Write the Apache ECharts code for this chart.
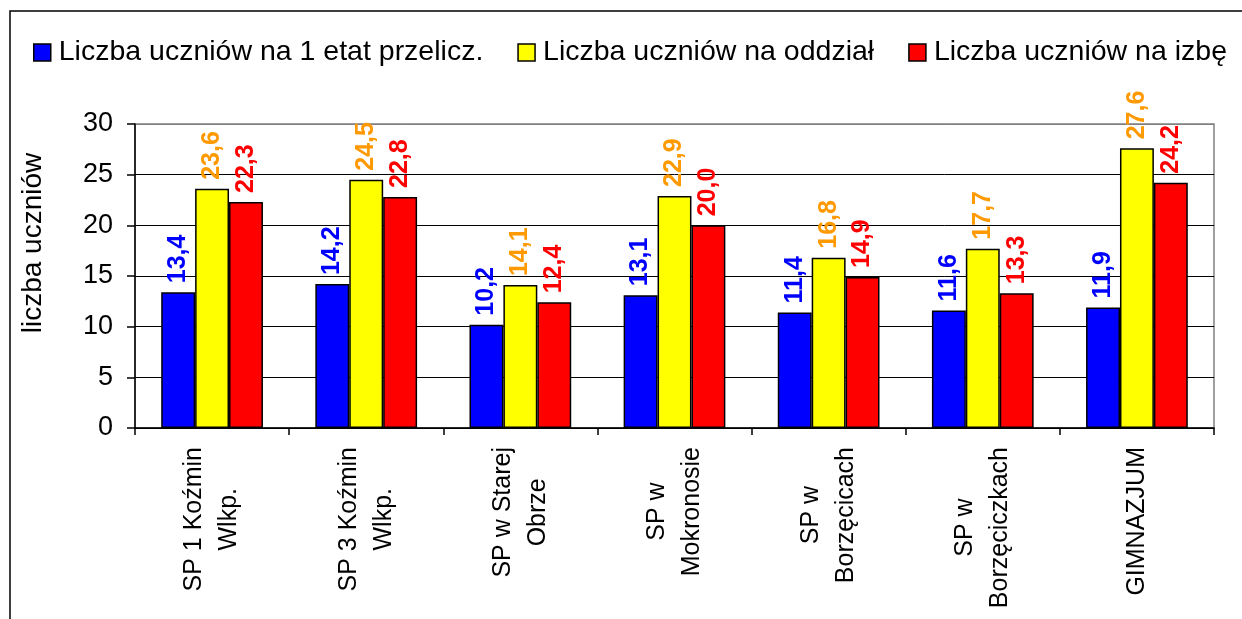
<!DOCTYPE html>
<html>
<head>
<meta charset="utf-8">
<script src="https://cdn.jsdelivr.net/npm/echarts@6/dist/echarts.min.js"></script>
<style>
html,body{margin:0;padding:0;background:#fff;}
#c{width:1242px;height:619px;}
</style>
</head>
<body>
<div id="c"></div>
<script>
var categories = ['SP 1 Koźmin\nWlkp.', 'SP 3 Koźmin\nWlkp.', 'SP w Starej\nObrze', 'SP w\nMokronosie', 'SP w\nBorzęcicach', 'SP w\nBorzęciczkach', 'GIMNAZJUM'];
var seriesNames = ['Liczba uczniów na 1 etat przelicz.', 'Liczba uczniów na oddział', 'Liczba uczniów na izbę'];
var perTeacher = [13.4, 14.2, 10.2, 13.1, 11.4, 11.6, 11.9];
var perClass = [23.6, 24.5, 14.1, 22.9, 16.8, 17.7, 27.6];
var perRoom = [22.3, 22.8, 12.4, 20.0, 14.9, 13.3, 24.2];
var yTicks = [0, 5, 10, 15, 20, 25, 30];
var yAxisTitle = 'liczba uczniów';

var FONT = "'Liberation Sans', Arial, sans-serif";
var barColors = ['#0000FF', '#FFFF00', '#FF0000'];
var labelColors = ['#0000FF', '#FF9900', '#FF0000'];
var dataSets = [perTeacher, perClass, perRoom];

function fmt(v) { return v.toFixed(1).replace('.', ','); }

var chart = echarts.init(document.getElementById('c'), null, {renderer: 'canvas'});
var series = dataSets.map(function (d, i) {
  return {
    name: seriesNames[i],
    type: 'bar',
    data: d,
    barGap: '0%',
    barCategoryGap: '34%',
    itemStyle: {color: barColors[i], borderColor: '#000', borderWidth: 1.5},
    label: {
      show: true,
      position: 'top',
      rotate: 90,
      align: 'left',
      verticalAlign: 'middle',
      distance: 9,
      color: labelColors[i],
      fontFamily: FONT,
      fontWeight: 'bold',
      fontSize: 25,
      formatter: function (p) { return fmt(p.value); }
    },
    emphasis: {disabled: true}
  };
});

chart.setOption({
  animation: false,
  backgroundColor: '#fff',
  textStyle: {fontFamily: FONT},
  graphic: [{
    type: 'polyline',
    shape: {points: [[10, 640], [10, 11], [1250, 11]]},
    style: {stroke: '#000', lineWidth: 1.5, fill: null},
    silent: true
  }],
  legend: {
    left: 28,
    top: 33,
    itemWidth: 17,
    itemHeight: 17,
    itemGap: 34,
    icon: 'rect',
    itemStyle: {borderColor: '#000', borderWidth: 1.5},
    textStyle: {fontFamily: FONT, fontSize: 28.5, color: '#000', padding: [0, 0, 0, 3]},
    data: seriesNames
  },
  grid: {
    left: 135, right: 28, top: 124, bottom: 191,
    show: true, borderColor: '#808080', borderWidth: 1.5,
    containLabel: false
  },
  xAxis: {
    type: 'category',
    data: categories,
    axisLine: {lineStyle: {color: '#000', width: 1.5}},
    axisTick: {show: true, length: 7, lineStyle: {color: '#000', width: 1.5}, interval: 0},
    axisLabel: {
      interval: 0,
      rotate: 90,
      margin: 19,
      color: '#000',
      fontFamily: FONT,
      fontSize: 25,
      formatter: function (v) {
        return v.split('\n').map(function (s) { return '{c|' + s + '}'; }).join('\n');
      },
      rich: {c: {align: 'center', fontSize: 25, lineHeight: 35, fontFamily: FONT, color: '#000'}}
    }
  },
  yAxis: {
    type: 'value',
    min: yTicks[0],
    max: yTicks[yTicks.length - 1],
    interval: yTicks[1] - yTicks[0],
    name: yAxisTitle,
    nameLocation: 'middle',
    nameGap: 88,
    nameRotate: 90,
    nameTextStyle: {fontFamily: FONT, fontSize: 28, color: '#000', padding: [0, 0, 0, 66]},
    axisLine: {show: true, lineStyle: {color: '#000', width: 1.5}},
    axisTick: {show: true, length: 8, lineStyle: {color: '#000', width: 1.5}},
    axisLabel: {margin: 22, color: '#000', fontFamily: FONT, fontSize: 27},
    splitLine: {show: true, lineStyle: {color: ['#000', '#000', '#000', '#000', '#000', '#000', '#808080'], width: 1}}
  },
  series: series
});
</script>
</body>
</html>
